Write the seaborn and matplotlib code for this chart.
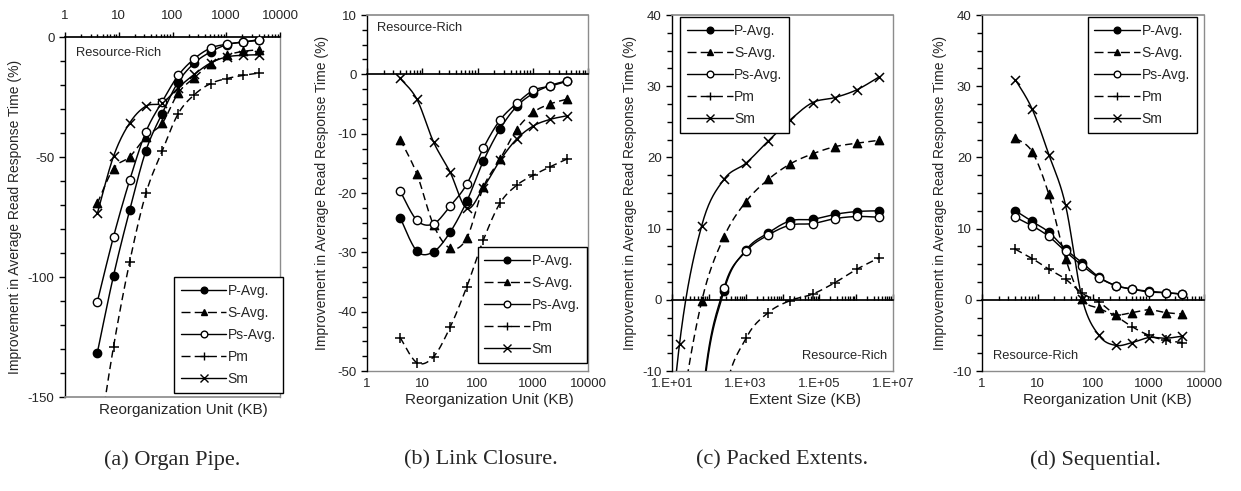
import numpy as np
import pandas as pd
import matplotlib
matplotlib.use("Agg")
import matplotlib.pyplot as plt
import seaborn as sns
from matplotlib.lines import Line2D
from matplotlib.ticker import LogLocator, MultipleLocator, NullFormatter, FixedLocator, FixedFormatter

# ---------------- data ----------------
series_names = ["P-Avg.", "S-Avg.", "Ps-Avg.", "Pm", "Sm"]

unit_kb = [4, 8, 16, 32, 64, 128, 256, 512, 1024, 2048, 4096]
extent_kb = [4, 16, 64, 256, 1024, 4096, 16384, 65536, 262144, 1048576, 4194304]

# (a) Organ Pipe
a_pavg = [-131.5, -99.4, -72.1, -47.4, -31.9, -18.7, -10.8, -6.2, -3.2, -2.1, -1.4]
a_savg = [-69.3, -54.8, -49.9, -41.6, -36.0, -23.3, -16.9, -11.1, -7.6, -6.0, -5.3]
a_psavg = [-110.3, -83.2, -59.6, -39.5, -27.0, -16.0, -9.0, -4.6, -3.0, -2.1, -1.1]
a_pm = [-172.0, -129.0, -93.6, -65.2, -47.6, -31.9, -24.0, -19.4, -17.3, -16.0, -15.0]
a_sm = [-73.5, -49.7, -35.8, -28.8, -27.5, -21.1, -15.5, -10.8, -8.3, -7.6, -7.4]

# (b) Link Closure
b_pavg = [-24.2, -29.8, -29.9, -26.6, -21.4, -14.6, -9.2, -5.4, -3.2, -1.9, -1.1]
b_savg = [-11.0, -16.8, -25.4, -29.3, -27.6, -19.0, -14.3, -9.3, -6.4, -5.0, -4.2]
b_psavg = [-19.7, -24.6, -25.2, -22.2, -18.5, -12.4, -7.7, -4.9, -2.7, -2.0, -1.2]
b_pm = [-44.4, -48.6, -47.6, -42.6, -35.8, -27.9, -21.7, -18.7, -17.0, -15.6, -14.3]
b_sm = [-0.7, -4.2, -11.4, -16.5, -22.6, -19.1, -14.5, -10.9, -8.7, -7.6, -7.0]

# (c) Packed Extents
c_pavg = [-150.0, -70.0, -16.0, 1.2, 7.0, 9.4, 11.1, 11.3, 12.0, 12.4, 12.5]
c_savg = [-45.0, -18.0, -0.2, 8.8, 13.8, 16.9, 19.1, 20.5, 21.5, 22.0, 22.4]
c_psavg = [-140.0, -65.0, -15.0, 1.6, 6.8, 9.1, 10.5, 10.7, 11.4, 11.7, 11.6]
c_pm = [-120.0, -80.0, -40.0, -14.0, -5.4, -1.8, -0.1, 0.8, 2.4, 4.3, 5.9]
c_sm = [-40.0, -6.2, 10.4, 16.9, 19.2, 22.3, 25.3, 27.7, 28.4, 29.5, 31.3]

# (d) Sequential
d_pavg = [12.5, 11.0, 9.5, 7.1, 5.2, 3.2, 2.0, 1.5, 1.2, 1.0, 0.8]
d_savg = [22.7, 20.8, 14.8, 5.8, 0.1, -1.2, -2.1, -1.8, -1.4, -1.8, -2.0]
d_psavg = [11.6, 10.4, 8.9, 6.8, 4.8, 3.1, 2.0, 1.5, 1.1, 1.0, 0.8]
d_pm = [7.1, 5.8, 4.3, 2.9, 0.9, -0.3, -2.2, -3.8, -5.0, -5.7, -6.0]
d_sm = [30.9, 26.8, 20.4, 13.3, 0.1, -5.0, -6.4, -6.0, -5.3, -5.4, -5.1]

unit_ticks = [1, 10, 100, 1000, 10000]
unit_ticklabels = ["1", "10", "100", "1000", "10000"]
extent_ticks = [1e1, 1e3, 1e5, 1e7]
extent_ticklabels = ["1.E+01", "1.E+03", "1.E+05", "1.E+07"]
captions = ["(a) Organ Pipe.", "(b) Link Closure.", "(c) Packed Extents.", "(d) Sequential."]

# ---------------- style ----------------
sns.set_theme(style="white")
plt.rcParams["font.family"] = ["Liberation Sans", "DejaVu Sans"]
plt.rcParams["axes.unicode_minus"] = False

GRAY = "#8c8c8c"
styles = {
    "P-Avg.": dict(marker="o", mfc="black", ls="-", lls="-", ms=6.0),
    "S-Avg.": dict(marker="^", mfc="black", ls=(0, (5, 3)), lls=(0, (6.5, 3)), ms=6.0),
    "Ps-Avg.": dict(marker="o", mfc="white", ls="-", lls="-", ms=6.0),
    "Pm": dict(marker="+", mfc="black", ls=(0, (5, 3)), lls=(0, (6.5, 3)), ms=7.5),
    "Sm": dict(marker="x", mfc="black", ls="-", lls="-", ms=6.5),
}


def smooth(xs, ys, n=30):
    """Bezier smoothing (Excel-like) in log-x space, for drawing only."""
    P = np.column_stack([np.log10(np.asarray(xs, float)), np.asarray(ys, float)])
    out = [P[0]]
    t = np.linspace(0, 1, n)[1:, None]
    for i in range(len(P) - 1):
        p0 = P[i - 1] if i > 0 else P[i]
        p1, p2 = P[i], P[i + 1]
        p3 = P[i + 2] if i + 2 < len(P) else P[i + 1]
        c1 = p1 + (p2 - p0) / 6.0
        c2 = p2 - (p3 - p1) / 6.0
        seg = (1 - t) ** 3 * p1 + 3 * (1 - t) ** 2 * t * c1 + 3 * (1 - t) * t ** 2 * c2 + t ** 3 * p2
        out.extend(seg)
    out = np.array(out)
    return 10 ** out[:, 0], out[:, 1]


W, H = 1241, 491
fig = plt.figure(figsize=(W / 100, H / 100), dpi=100)


def box(l, r, t, b):
    return [l / W, 1 - b / H, (r - l) / W, (b - t) / H]


panels = [
    dict(rect=box(65, 280, 37, 397), x=unit_kb, ys=[a_pavg, a_savg, a_psavg, a_pm, a_sm],
         ylim=(-150, 0), major=50, minor=10, xlim=(1, 10000), xt=unit_ticks, xtl=unit_ticklabels,
         xlabel="Reorganization Unit (KB)", top=True, xlab=(0.55, -0.017),
         leg=("lower right", (1.014, 0.011)), rr=(0.051, 0.956, "left"), ylab_x=-0.2),
    dict(rect=box(367, 588, 15, 371), x=unit_kb, ys=[b_pavg, b_savg, b_psavg, b_pm, b_sm],
         ylim=(-50, 10), major=10, minor=2.5, xlim=(1, 10000), xt=unit_ticks, xtl=unit_ticklabels,
         xlabel="Reorganization Unit (KB)", top=False, xlab=(0.552, -0.062),
         leg=("lower right", (0.995, 0.022)), rr=(0.045, 0.963, "left"), ylab_x=-0.172),
    dict(rect=box(672, 893, 15, 371), x=extent_kb, ys=[c_pavg, c_savg, c_psavg, c_pm, c_sm],
         ylim=(-10, 40), major=10, minor=2.5, xlim=(1e1, 1e7), xt=extent_ticks, xtl=extent_ticklabels,
         xlabel="Extent Size (KB)", top=False, xlab=(0.6, -0.062),
         leg=("upper left", (0.036, 0.994)), rr=(0.973, 0.042, "right"), ylab_x=-0.158),
    dict(rect=box(982, 1204, 15, 371), x=unit_kb, ys=[d_pavg, d_savg, d_psavg, d_pm, d_sm],
         ylim=(-10, 40), major=10, minor=2.5, xlim=(1, 10000), xt=unit_ticks, xtl=unit_ticklabels,
         xlabel="Reorganization Unit (KB)", top=False, xlab=(0.565, -0.062),
         leg=("upper right", (0.968, 0.994)), rr=(0.05, 0.042, "left"), ylab_x=-0.158),
]

TICK_FS = 9.5
XLAB_FS = 11
YLAB_FS = 10
LEG_FS = 10
RR_FS = 9.3

for p, cap_x, cap in zip(panels, [172, 481, 782, 1095], captions):
    ax = fig.add_axes(p["rect"])
    ax.set_xscale("log")
    for name, ys in zip(series_names, p["ys"]):
        st = styles[name]
        sx, sy = smooth(p["x"], ys)
        sns.lineplot(x=sx, y=sy, ax=ax, color="black", lw=1.05, sort=False, estimator=None,
                     linestyle=st["ls"], legend=False)
        if st["marker"] in ("+", "x"):
            sns.scatterplot(x=p["x"], y=ys, ax=ax, marker=st["marker"], color="black",
                            s=st["ms"] ** 2, linewidth=1.1, legend=False, zorder=4)
        else:
            sns.scatterplot(x=p["x"], y=ys, ax=ax, marker=st["marker"], facecolor=st["mfc"],
                            edgecolor="black", s=st["ms"] ** 2, linewidth=1.0, legend=False, zorder=4)
    ax.set_xlim(*p["xlim"])
    ax.set_ylim(*p["ylim"])

    # y axis
    ax.yaxis.set_major_locator(MultipleLocator(p["major"]))
    ax.yaxis.set_minor_locator(MultipleLocator(p["minor"]))
    ax.tick_params(axis="y", which="major", direction="out", length=4.5, width=1, color="black",
                   labelsize=TICK_FS, pad=3, left=True)
    ax.tick_params(axis="y", which="minor", direction="out", length=3.5, width=1, color="black", left=True)
    ax.spines["left"].set_color("black")
    ax.spines["left"].set_linewidth(1.0)
    ax.set_ylabel("Improvement in Average Read Response Time (%)", fontsize=YLAB_FS)
    ax.yaxis.set_label_coords(p["ylab_x"], 0.5)

    # x axis
    ax.xaxis.set_major_locator(LogLocator(base=10, numticks=20))
    ax.xaxis.set_minor_locator(LogLocator(base=10, subs=np.arange(2, 10), numticks=20))
    ax.xaxis.set_minor_formatter(NullFormatter())
    ax.spines["right"].set_color(GRAY)
    ax.spines["right"].set_linewidth(1.0)
    if p["top"]:
        ax.xaxis.tick_top()
        ax.xaxis.set_major_locator(FixedLocator(p["xt"]))
        ax.xaxis.set_major_formatter(FixedFormatter(p["xtl"]))
        ax.tick_params(axis="x", which="major", direction="out", length=3.5, width=1, color="black",
                       labelsize=TICK_FS, pad=7, top=True, bottom=False)
        ax.tick_params(axis="x", which="minor", direction="out", length=2.5, width=1, color="black",
                       top=True, bottom=False)
        ax.spines["top"].set_color("black")
        ax.spines["bottom"].set_color(GRAY)
        ax.xaxis.set_label_position("bottom")
    else:
        ax.spines["bottom"].set_position(("data", 0))
        ax.spines["bottom"].set_color("black")
        ax.spines["top"].set_color(GRAY)
        ax.tick_params(axis="x", which="major", direction="in", length=4, width=1, color="black",
                       labelbottom=False, bottom=True)
        ax.tick_params(axis="x", which="minor", direction="in", length=3, width=1, color="black",
                       bottom=True)
        sec = ax.secondary_xaxis("bottom")
        sec.set_xticks(p["xt"], labels=p["xtl"])
        sec.xaxis.set_minor_locator(matplotlib.ticker.NullLocator())
        sec.tick_params(axis="x", which="both", length=0, labelsize=TICK_FS, pad=5)
        sec.spines["bottom"].set_color(GRAY)
        sec.spines["bottom"].set_linewidth(1.0)
    ax.set_xlabel(p["xlabel"], fontsize=XLAB_FS)
    ax.xaxis.set_label_coords(*p["xlab"])

    # annotation
    rx, ry, ha = p["rr"]
    ax.text(rx, ry, "Resource-Rich", transform=ax.transAxes, ha=ha, va="center", fontsize=RR_FS)

    # legend
    handles = [Line2D([], [], color="black", lw=1.0, linestyle=styles[n]["lls"], marker=styles[n]["marker"],
                      markersize=styles[n]["ms"] * 0.8, markerfacecolor=styles[n]["mfc"], markeredgecolor="black",
                      markeredgewidth=1.0) for n in series_names]
    loc, anchor = p["leg"]
    leg = ax.legend(handles, series_names, loc=loc, bbox_to_anchor=anchor, fontsize=LEG_FS,
                    frameon=True, fancybox=False, framealpha=1, edgecolor="black",
                    handlelength=3.3, handletextpad=0.1, labelspacing=0.58, borderpad=0.5,
                    borderaxespad=0)
    leg.get_frame().set_linewidth(1.0)

    fig.text(cap_x / W, 1 - 460 / H, cap, ha="center", va="center", fontsize=16,
             family=["Liberation Serif", "DejaVu Serif"])

fig.savefig("out.png", dpi=100, facecolor="white")
